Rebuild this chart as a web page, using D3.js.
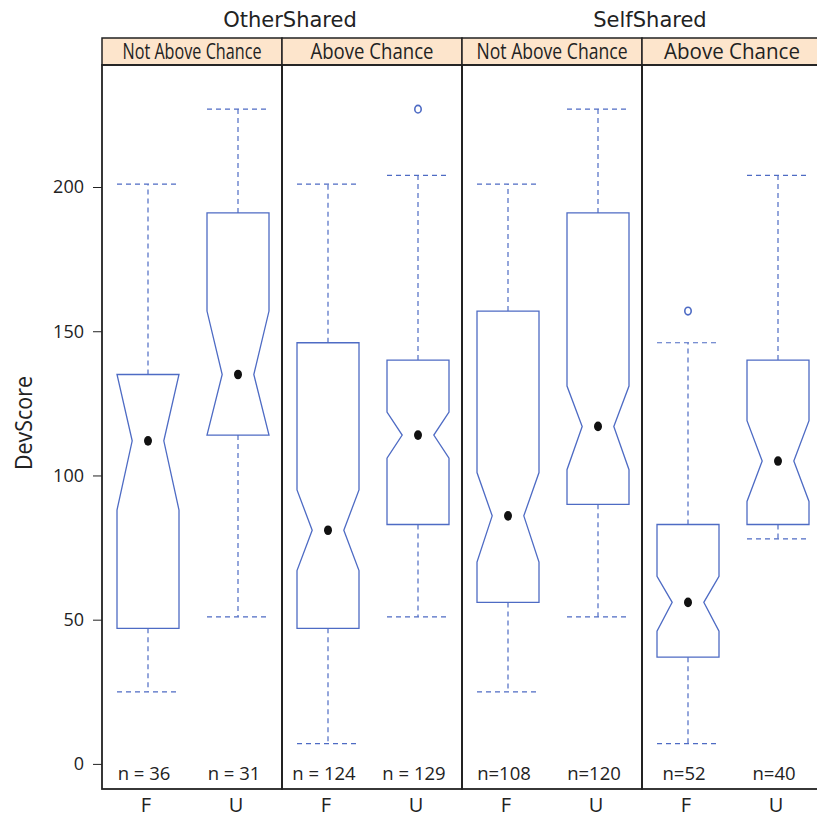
<!DOCTYPE html>
<html>
<head>
<meta charset="utf-8">
<script src="https://cdn.jsdelivr.net/npm/d3@7"></script>
<style>
  body { margin: 0; background: #fff; }
  svg text { font-family: "Open Sans", sans-serif; fill: #222; }
</style>
</head>
<body>
<div id="chart"></div>
<script>
//
// Notched box plots, DevScore by sharing / chance panel
//

// data, one entry per box: panel order OtherShared-Not, OtherShared-Above, SelfShared-Not, SelfShared-Above; F then U
var groups = ["OtherShared", "SelfShared"];
var chanceLevels = ["Not Above Chance", "Above Chance"];
var categories = ["F", "U"];
var whiskerLow  = [25, 51, 7, 51, 25, 51, 7, 78];
var q1          = [47, 114, 47, 83, 56, 90, 37, 83];
var notchLow    = [88, 114, 67, 106, 70, 102, 46, 91];
var medians     = [112, 135, 81, 114, 86, 117, 56, 105];
var notchHigh   = [135, 157, 95, 122, 101, 131, 65, 119];
var q3          = [135, 191, 146, 140, 157, 191, 83, 140];
var whiskerHigh = [201, 227, 201, 204, 201, 227, 146, 204];
var outliers    = [[], [], [], [227], [], [], [157], []];
var countLabels = ["n = 36", "n = 31", "n = 124", "n = 129", "n=108", "n=120", "n=52", "n=40"];
var yTicks = [0, 50, 100, 150, 200];

// layout
const _width = 817, _height = 818;
const _left = 102, _right = 822;
const _stripTop = 38, _stripBottom = 65, _bottom = 789;
const _boxWidth = 62;
const _blue = "#4e6bc4";
var _stripTextWidth = [139, 123, 151, 136];

var panels = [];
for (g = 0; g < groups.length; g++) {
    for (c = 0; c < chanceLevels.length; c++) {
        panels.push({ group: groups[g], chance: chanceLevels[c], idx: panels.length });
    }
}

var boxes = [];
for (i = 0; i < whiskerLow.length; i++) {
    boxes.push({
        panel: Math.floor(i / 2), cat: categories[i % 2],
        lo: whiskerLow[i], q1: q1[i], nLo: notchLow[i], med: medians[i],
        nHi: notchHigh[i], q3: q3[i], hi: whiskerHigh[i], out: outliers[i], n: countLabels[i]
    });
}

var svg = d3.select("#chart").append("svg")
    .attr("width", _width)
    .attr("height", _height);

var px = d3.scaleBand().domain(panels.map(d => d.idx)).range([_left, _right]);
var cx = d3.scalePoint().domain(categories).range([0, px.bandwidth()]).padding(0.5);
var y = d3.scaleLinear().domain([-8.7, 242.3]).range([_bottom, _stripBottom]);

// panel strips
svg.selectAll(".strip")
    .data(panels)
    .join("rect")
    .attr("class", "strip")
    .attr("x", d => px(d.idx))
    .attr("y", _stripTop)
    .attr("width", px.bandwidth())
    .attr("height", _stripBottom - _stripTop)
    .attr("fill", "#fde5cc")
    .attr("stroke", "#222")
    .attr("stroke-width", 1.5);

svg.selectAll(".stripText")
    .data(panels)
    .join("text")
    .attr("class", "stripText")
    .attr("x", d => px(d.idx) + px.bandwidth() / 2)
    .attr("y", 59)
    .attr("text-anchor", "middle")
    .attr("textLength", d => _stripTextWidth[d.idx])
    .attr("lengthAdjust", "spacingAndGlyphs")
    .style("font-size", "21px")
    .text(d => d.chance);

// group titles
svg.selectAll(".groupTitle")
    .data(groups)
    .join("text")
    .attr("class", "groupTitle")
    .attr("x", (d, i) => px(i * 2) + px.bandwidth() + 8)
    .attr("y", 27)
    .attr("text-anchor", "middle")
    .style("font-family", "'DejaVu Sans', sans-serif")
    .style("font-size", "21px")
    .text(d => d);

// boxes
var line = d3.line();
var gBox = svg.append("g");

boxes.forEach(function (b) {
    var x0 = px(b.panel) + cx(b.cat) + 1;
    var hw = _boxWidth / 2;
    var inset = _boxWidth * 0.245;

    // whiskers and caps
    [[b.q3, b.hi], [b.q1, b.lo]].forEach(function (w) {
        gBox.append("line")
            .attr("x1", x0).attr("x2", x0)
            .attr("y1", y(w[0])).attr("y2", y(w[1]))
            .attr("stroke", _blue).attr("stroke-width", 1.2)
            .attr("stroke-dasharray", "5,4");
        gBox.append("line")
            .attr("x1", x0 - hw).attr("x2", x0 + hw)
            .attr("y1", y(w[1])).attr("y2", y(w[1]))
            .attr("stroke", _blue).attr("stroke-width", 1.2)
            .attr("stroke-dasharray", "5,4");
    });

    var pts = [
        [x0 - hw, y(b.q1)], [x0 - hw, y(b.nLo)], [x0 - hw + inset, y(b.med)],
        [x0 - hw, y(b.nHi)], [x0 - hw, y(b.q3)], [x0 + hw, y(b.q3)],
        [x0 + hw, y(b.nHi)], [x0 + hw - inset, y(b.med)], [x0 + hw, y(b.nLo)],
        [x0 + hw, y(b.q1)]
    ];
    gBox.append("path")
        .attr("d", line(pts) + "Z")
        .attr("fill", "none")
        .attr("stroke", _blue)
        .attr("stroke-width", 1.3);

    gBox.append("ellipse")
        .attr("cx", x0).attr("cy", y(b.med))
        .attr("rx", 4).attr("ry", 4.8)
        .attr("fill", "#111");

    b.out.forEach(function (o) {
        gBox.append("ellipse")
            .attr("cx", x0).attr("cy", y(o))
            .attr("rx", 3.2).attr("ry", 3.8)
            .attr("fill", "none")
            .attr("stroke", _blue)
            .attr("stroke-width", 1.6);
    });

    gBox.append("text")
        .attr("x", x0 - 4)
        .attr("y", 780)
        .attr("text-anchor", "middle")
        .style("font-size", "18.5px")
        .text(b.n);

    gBox.append("text")
        .attr("x", x0 - 2)
        .attr("y", 812)
        .attr("text-anchor", "middle")
        .style("font-size", "20px")
        .text(b.cat);
});

// panel frames
svg.selectAll(".panelFrame")
    .data(panels)
    .join("rect")
    .attr("class", "panelFrame")
    .attr("x", d => px(d.idx))
    .attr("y", _stripBottom)
    .attr("width", px.bandwidth())
    .attr("height", _bottom - _stripBottom)
    .attr("fill", "none")
    .attr("stroke", "#222")
    .attr("stroke-width", 1.8);

// y-axis
var yAxis = d3.axisLeft(y).tickValues(yTicks).tickSize(9).tickPadding(9);
var gy = svg.append("g")
    .attr("transform", "translate(" + _left + ",0)")
    .call(yAxis);
gy.select(".domain").remove();
gy.selectAll(".tick line").attr("stroke", "#222");
gy.selectAll(".tick text")
    .style("font-family", "'Open Sans', sans-serif")
    .style("font-size", "18px")
    .attr("fill", "#222");

// y-axis label
svg.append("text")
    .attr("transform", "translate(32," + 423 + ") rotate(-90)")
    .attr("text-anchor", "middle")
    .attr("textLength", 94)
    .attr("lengthAdjust", "spacingAndGlyphs")
    .style("font-size", "24px")
    .text("DevScore");
</script>
</body>
</html>
